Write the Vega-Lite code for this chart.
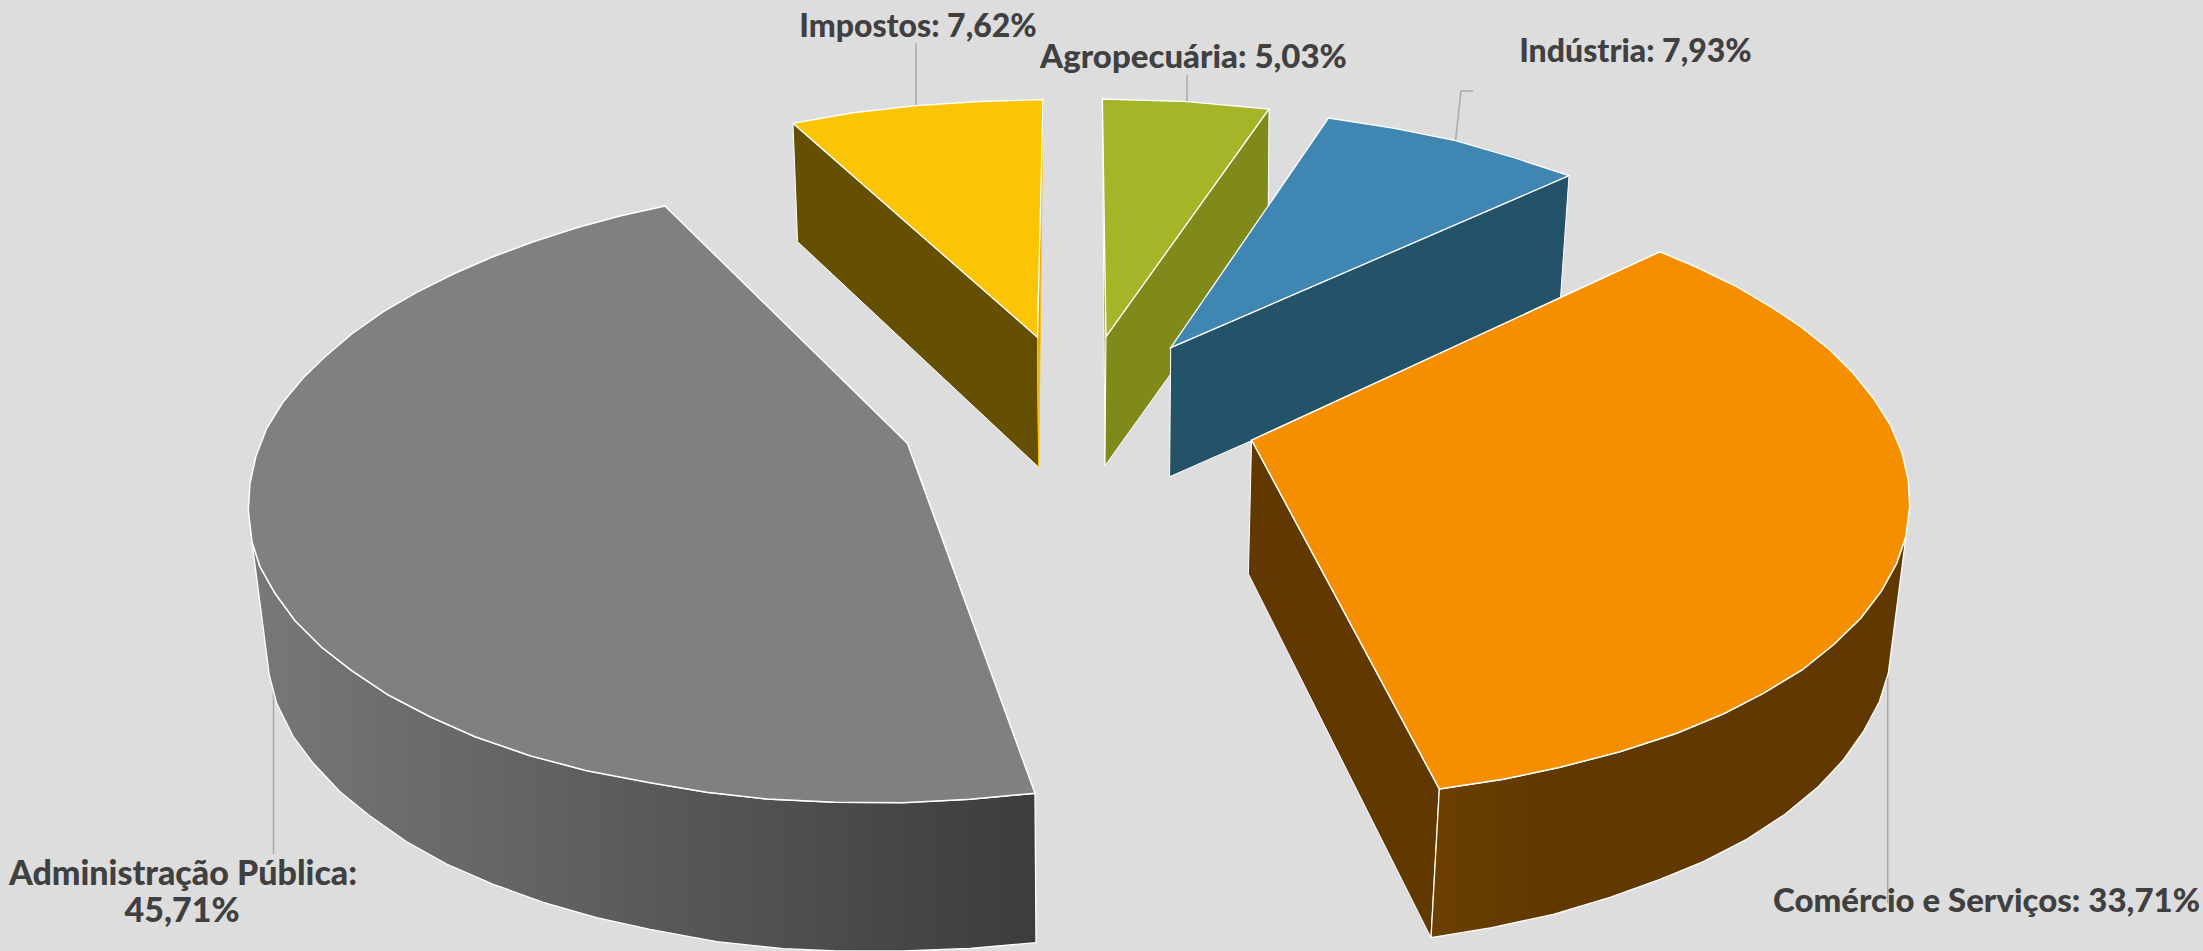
{"$schema":"https://vega.github.io/schema/vega-lite/v6.json","width":2203,"height":951,"autosize":{"type":"none"},"padding":0,"background":"#DDDDDD","config":{"view":{"stroke":null}},
"datasets":{
"leaders":[{"s":"Impostos","x":916,"y":43},{"s":"Impostos","x":916,"y":106},{"s":"Agropecuária","x":1187,"y":75},{"s":"Agropecuária","x":1187,"y":102},{"s":"Indústria","x":1473,"y":91},{"s":"Indústria","x":1461,"y":91},{"s":"Indústria","x":1455.5,"y":141},{"s":"Administração","x":273.5,"y":692},{"s":"Administração","x":273.5,"y":854},{"s":"Comércio","x":1887.7,"y":673},{"s":"Comércio","x":1887.7,"y":903}],
"impSide":[{"x":793,"y":123.3},{"x":797.6,"y":241.7},{"x":1038.7,"y":467.3},{"x":1037.5,"y":337.3}],
"impSliver":[{"x":1043,"y":99.7},{"x":1037.5,"y":337.3},{"x":1038.7,"y":467.3}],
"impTop":[{"x":793,"y":123.3},{"x":851,"y":113},{"x":916,"y":105.7},{"x":980,"y":101.5},{"x":1043,"y":99.7},{"x":1037.5,"y":337.3}],
"agroSliver":[{"x":1102.4,"y":99},{"x":1106,"y":336.7},{"x":1105,"y":465.7}],
"agroSide":[{"x":1269,"y":109},{"x":1106,"y":336.7},{"x":1105,"y":465.7},{"x":1268,"y":238}],
"agroTop":[{"x":1102.4,"y":99},{"x":1187,"y":101.7},{"x":1269,"y":109},{"x":1106,"y":336.7}],
"indSide":[{"x":1569,"y":175.7},{"x":1170.7,"y":347.7},{"x":1169.6,"y":476.7},{"x":1560,"y":305}],
"indTop":[{"x":1328.6,"y":118},{"x":1394.6,"y":128.3},{"x":1455.5,"y":140.7},{"x":1515,"y":158},{"x":1569,"y":175.7},{"x":1170.7,"y":347.7}],
"comInner":[{"x":1251.6,"y":440.1},{"x":1248.4,"y":573.9},{"x":1431,"y":937.7},{"x":1439.3,"y":789}],
"comSide":[{"x":1439.3,"y":789},{"x":1431,"y":937.7},{"x":1491.7,"y":927.7},{"x":1553.3,"y":914.3},{"x":1610,"y":897.3},{"x":1660,"y":879.3},{"x":1703.3,"y":861.7},{"x":1746.7,"y":839.3},{"x":1785,"y":814.3},{"x":1818.3,"y":786.7},{"x":1843.3,"y":760},{"x":1863.3,"y":731.7},{"x":1879.3,"y":701.7},{"x":1888.3,"y":673.3},{"x":1906,"y":536},{"x":1896.7,"y":563.3},{"x":1881.7,"y":590.7},{"x":1860.7,"y":618.3},{"x":1833.7,"y":644.5},{"x":1802,"y":670},{"x":1763.3,"y":693.3},{"x":1723.3,"y":714},{"x":1676.7,"y":733.3},{"x":1620,"y":751.7},{"x":1560,"y":767.3},{"x":1503.3,"y":779.3}],
"comTop":[{"x":1251.6,"y":440.1},{"x":1660,"y":251.7},{"x":1696.7,"y":267.3},{"x":1736.7,"y":286.7},{"x":1773.3,"y":308.3},{"x":1801.7,"y":327.3},{"x":1830,"y":350},{"x":1853.3,"y":373.3},{"x":1874,"y":399},{"x":1890,"y":424.3},{"x":1901.7,"y":451.7},{"x":1908.3,"y":480},{"x":1909.7,"y":506.7},{"x":1906,"y":536},{"x":1896.7,"y":563.3},{"x":1881.7,"y":590.7},{"x":1860.7,"y":618.3},{"x":1833.7,"y":644.5},{"x":1802,"y":670},{"x":1763.3,"y":693.3},{"x":1723.3,"y":714},{"x":1676.7,"y":733.3},{"x":1620,"y":751.7},{"x":1560,"y":767.3},{"x":1503.3,"y":779.3},{"x":1439.3,"y":789}],
"admSide":[{"x":252,"y":541.7},{"x":269.3,"y":675},{"x":276.7,"y":703.3},{"x":293.3,"y":736.7},{"x":313.3,"y":763.3},{"x":340,"y":791.7},{"x":370,"y":816},{"x":406.7,"y":841.7},{"x":446.7,"y":864},{"x":493.3,"y":884.3},{"x":543.3,"y":902.3},{"x":596.7,"y":917.7},{"x":650,"y":929.3},{"x":716.7,"y":941.7},{"x":783.3,"y":948.7},{"x":836.7,"y":951},{"x":903.3,"y":951},{"x":970,"y":948.3},{"x":1036,"y":942.7},{"x":1035,"y":793.3},{"x":970,"y":799.3},{"x":903.3,"y":802.7},{"x":835,"y":802.3},{"x":766.7,"y":799},{"x":706.7,"y":792.3},{"x":650,"y":782.7},{"x":586.7,"y":770.7},{"x":530,"y":755.7},{"x":475,"y":736.7},{"x":430,"y":716.7},{"x":388.3,"y":695},{"x":351.7,"y":670.7},{"x":321.7,"y":647.3},{"x":295,"y":620.7},{"x":275,"y":593.3},{"x":260,"y":566.7}],
"admTop":[{"x":665,"y":206},{"x":620,"y":216},{"x":576.7,"y":227.7},{"x":533.3,"y":241.7},{"x":491.7,"y":257.3},{"x":453.3,"y":274},{"x":416.7,"y":292.3},{"x":383.3,"y":311.7},{"x":351.7,"y":334},{"x":325,"y":356.7},{"x":303.3,"y":377.7},{"x":283.3,"y":401.7},{"x":266.7,"y":428.3},{"x":256,"y":456},{"x":250,"y":483.3},{"x":248.3,"y":510},{"x":252,"y":541.7},{"x":260,"y":566.7},{"x":275,"y":593.3},{"x":295,"y":620.7},{"x":321.7,"y":647.3},{"x":351.7,"y":670.7},{"x":388.3,"y":695},{"x":430,"y":716.7},{"x":475,"y":736.7},{"x":530,"y":755.7},{"x":586.7,"y":770.7},{"x":650,"y":782.7},{"x":706.7,"y":792.3},{"x":766.7,"y":799},{"x":835,"y":802.3},{"x":903.3,"y":802.7},{"x":970,"y":799.3},{"x":1035,"y":793.3},{"x":907.5,"y":443.4}],
"labels32":[{"label":"Impostos: 7,62%","x":918,"y":37},{"label":"Indústria: 7,93%","x":1635.5,"y":62}],
"labels33":[{"label":"Agropecuária: 5,03%","x":1193.5,"y":68},{"label":"Comércio e Serviços: 33,71%","x":1986.5,"y":912}],
"labels34":[{"label":"Administração Pública:","x":183,"y":885},{"label":"45,71%","x":182,"y":922}]
},
"encoding":{"x":{"field":"x","type":"quantitative","scale":{"domain":[0,2203],"nice":false,"zero":false},"axis":null},"y":{"field":"y","type":"quantitative","scale":{"domain":[951,0],"nice":false,"zero":false},"axis":null}},
"layer":[
{"data":{"name":"leaders"},"mark":{"type":"line","stroke":"#A9A9A9","strokeWidth":1.5},"encoding":{"detail":{"field":"s"},"order":{"value":null}}},
{"data":{"name":"impSide"},"mark":{"type":"line","interpolate":"linear-closed","fill":"#654F00","stroke":"#FFFFFF","strokeWidth":1},"encoding":{"order":{"value":null}}},
{"data":{"name":"impSliver"},"mark":{"type":"line","interpolate":"linear-closed","fill":"#D9A90A","stroke":"#FBC405","strokeWidth":1},"encoding":{"order":{"value":null}}},
{"data":{"name":"impTop"},"mark":{"type":"line","interpolate":"linear-closed","fill":"#FBC405","stroke":"#FFFFFF","strokeWidth":1.3},"encoding":{"order":{"value":null}}},
{"data":{"name":"agroSliver"},"mark":{"type":"line","interpolate":"linear-closed","fill":"#6F7817","stroke":"#FFFFFF","strokeWidth":1},"encoding":{"order":{"value":null}}},
{"data":{"name":"agroSide"},"mark":{"type":"line","interpolate":"linear-closed","fill":"#7F8A1B","stroke":"#FFFFFF","strokeWidth":1},"encoding":{"order":{"value":null}}},
{"data":{"name":"agroTop"},"mark":{"type":"line","interpolate":"linear-closed","fill":"#A4B528","stroke":"#FFFFFF","strokeWidth":1.3},"encoding":{"order":{"value":null}}},
{"data":{"name":"indSide"},"mark":{"type":"line","interpolate":"linear-closed","fill":"#245269","stroke":"#FFFFFF","strokeWidth":1},"encoding":{"order":{"value":null}}},
{"data":{"name":"indTop"},"mark":{"type":"line","interpolate":"linear-closed","fill":"#4086B2","stroke":"#FFFFFF","strokeWidth":1.3},"encoding":{"order":{"value":null}}},
{"data":{"name":"comInner"},"mark":{"type":"line","interpolate":"linear-closed","fill":"#603800","stroke":"#FFFFFF","strokeWidth":1},"encoding":{"order":{"value":null}}},
{"data":{"name":"comSide"},"mark":{"type":"line","interpolate":"linear-closed","fill":{"gradient":"linear","x1":0,"y1":0,"x2":1,"y2":0,"stops":[{"offset":0,"color":"#6B4000"},{"offset":0.25,"color":"#603800"},{"offset":1,"color":"#603800"}]},"stroke":"#FFFFFF","strokeWidth":1.3},"encoding":{"order":{"value":null}}},
{"data":{"name":"comTop"},"mark":{"type":"line","interpolate":"linear-closed","fill":"#F58F00","stroke":"#FFFFFF","strokeWidth":1.5},"encoding":{"order":{"value":null}}},
{"data":{"name":"admSide"},"mark":{"type":"line","interpolate":"linear-closed","fill":{"gradient":"linear","x1":0,"y1":0,"x2":1,"y2":0,"stops":[{"offset":0,"color":"#787878"},{"offset":1,"color":"#3C3C3C"}]},"stroke":"#FFFFFF","strokeWidth":1.3},"encoding":{"order":{"value":null}}},
{"data":{"name":"admTop"},"mark":{"type":"line","interpolate":"linear-closed","fill":"#808080","stroke":"#FFFFFF","strokeWidth":1.5},"encoding":{"order":{"value":null}}},
{"data":{"name":"labels32"},"mark":{"type":"text","font":"Lato","fontWeight":900,"fontSize":32,"fill":"#404040","align":"center","baseline":"alphabetic"},"encoding":{"text":{"field":"label"}}},
{"data":{"name":"labels33"},"mark":{"type":"text","font":"Lato","fontWeight":900,"fontSize":33,"fill":"#404040","align":"center","baseline":"alphabetic"},"encoding":{"text":{"field":"label"}}},
{"data":{"name":"labels34"},"mark":{"type":"text","font":"Lato","fontWeight":900,"fontSize":34,"fill":"#404040","align":"center","baseline":"alphabetic"},"encoding":{"text":{"field":"label"}}}
]}
